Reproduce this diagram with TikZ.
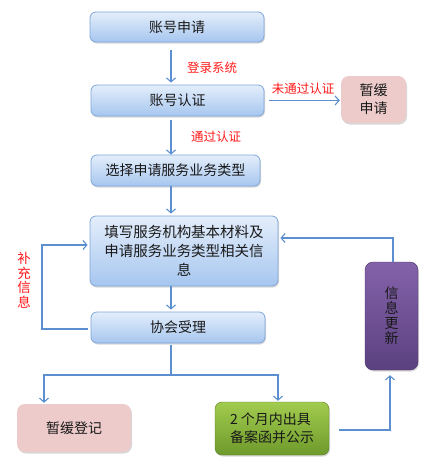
\documentclass[tikz,border=0pt]{standalone}
\usepackage{fontspec}
\setmainfont{Noto Sans CJK SC}
\usetikzlibrary{arrows.meta,shadows,calc}
\definecolor{lineblue}{HTML}{5B8FD0}
\definecolor{bluetop}{HTML}{E4EEFB}
\definecolor{bluebot}{HTML}{A6C6EF}
\definecolor{blueedge}{HTML}{7FA6DA}
\definecolor{pinkfill}{HTML}{EDCBCA}
\definecolor{greentop}{HTML}{A2CC4E}
\definecolor{greenbot}{HTML}{6E9A2C}
\definecolor{purptop}{HTML}{8462AA}
\definecolor{purpbot}{HTML}{5B4180}
\definecolor{redlabel}{HTML}{FF1A1A}
\begin{document}
\begin{tikzpicture}[x=1pt,y=-1pt,
  boxbase/.style={inner sep=0pt, text=black!90, font=\fontsize{14}{17}\selectfont,
    drop shadow={shadow xshift=1pt, shadow yshift=-1.5pt, opacity=0.3}},
  bluebox/.style={boxbase, draw=blueedge, line width=0.8pt, top color=bluetop, bottom color=bluebot, rounded corners=6pt},
  pinkbox/.style={boxbase, fill=pinkfill, rounded corners=8pt},
  greenbox/.style={boxbase, draw=greenbot!80!black, line width=0.4pt, top color=greentop, bottom color=greenbot, rounded corners=7pt},
  purpbox/.style={boxbase, draw=purpbot!80!black, line width=0.4pt, top color=purptop, bottom color=purpbot, rounded corners=8pt},
  arr/.style={draw=lineblue, line width=1.1pt, -{Straight Barb[length=4pt,width=9pt]}},
  conn/.style={draw=lineblue, line width=1.1pt},
  redtxt/.style={text=redlabel, font=\fontsize{12.5}{14}\selectfont, inner sep=0pt}
]
\fill[white] (0,0) rectangle (429,464);
\useasboundingbox (0,0) rectangle (429,464);

\node[bluebox, minimum width=174pt, minimum height=30pt] (b1) at (177,27) {账号申请};
\node[bluebox, minimum width=173pt, minimum height=31pt] (b2) at (177.5,100.5) {账号认证};
\node[bluebox, minimum width=169pt, minimum height=31pt] (b3) at (175.5,170.5) {选择申请服务业务类型};
\node[bluebox, minimum width=188pt, minimum height=70pt, align=center,
      font=\fontsize{14.5}{19}\selectfont] (b4) at (184,251) {填写服务机构基本材料及\\申请服务业务类型相关信\\息};
\node[bluebox, minimum width=174pt, minimum height=31pt] (b5) at (178,327.5) {协会受理};

\node[pinkbox, minimum width=65pt, minimum height=47pt, align=center,
      font=\fontsize{14}{18}\selectfont] (p1) at (373.5,99.5) {暂缓\\申请};
\node[pinkbox, minimum width=114pt, minimum height=48pt] (p2) at (74,428) {暂缓登记};
\node[greenbox, minimum width=114pt, minimum height=53pt, align=left,
      font=\fontsize{14}{18}\selectfont] (g1) at (272,428.5) {2 个月内出具\\备案函并公示};
\node[purpbox, minimum width=53pt, minimum height=108pt, align=center,
      font=\fontsize{14}{15}\selectfont] (u1) at (391.5,316) {信\\息\\更\\新};

% labels
\node[redtxt] (l1) at (212,68) {登录系统};
\node[redtxt] (l2) at (303,89) {未通过认证};
\node[redtxt] (l3) at (216,137) {通过认证};
\node[redtxt, align=center, font=\fontsize{13.5}{14.5}\selectfont] (l4) at (24,280) {补\\充\\信\\息};

% helper coordinates
\coordinate (ax) at (171,0);
\coordinate (loopL) at (42,0);
\coordinate (brY) at (0,375);
\coordinate (brL) at (44,0);
\coordinate (brR) at (278,0);
\coordinate (gx) at (390,0);
\coordinate (ux) at (393,0);
\coordinate (topY) at (0,238);
\coordinate (loopLow) at (0,329);
\coordinate (loopUp) at (0,245);

% main vertical arrows
\draw[arr, shorten <=8pt, shorten >=2pt] (b1.south -| ax) -- (b2.north -| ax);
\draw[arr, shorten <=4pt] (b2.south -| ax) -- (b3.north -| ax);
\draw[arr, shorten >=2pt] (b3.south -| ax) -- (b4.north -| ax);
\draw[arr, shorten >=2pt] (b4.south -| ax) -- (b5.north -| ax);

% to pink 1
\draw[arr, shorten <=5pt, shorten >=1pt] (b2.east) -- (p1.west |- b2.east);

% left loop
\draw[arr] ([xshift=-3pt]b5.west |- loopLow) -| (loopL |- loopUp) -- ([xshift=-2pt]b4.west |- loopUp);

% branch
\draw[conn] ([yshift=-2pt]b5.south -| ax) -- (ax |- brY);
\draw[arr, shorten >=1pt] (brL |- brY) -- (brR |- brY) -- (brR |- g1.north);
\draw[arr, shorten >=1pt] (brR |- brY) -- (brL |- brY) -- (brL |- p2.north);

% green -> purple
\draw[arr, shorten >=5pt] ([xshift=10pt]g1.east |- 0,430) -| (gx |- u1.south);

% purple -> box4
\draw[arr, shorten >=2pt] (ux |- u1.north) -- (ux |- topY) -- (b4.east |- topY);
\end{tikzpicture}
\end{document}
